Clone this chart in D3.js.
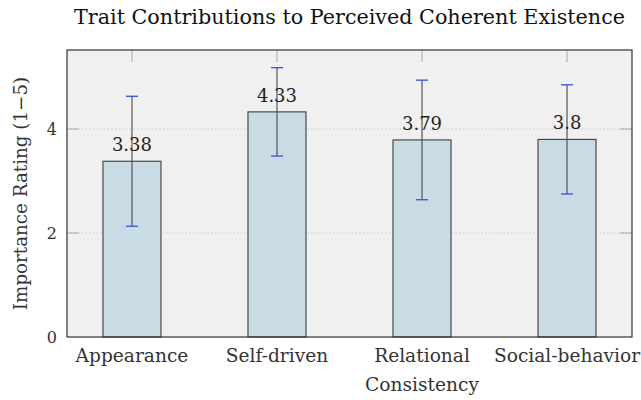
<!DOCTYPE html>
<html><head><meta charset="utf-8">
<script src="https://cdn.jsdelivr.net/npm/d3@7"></script>
<style>body{margin:0;background:#fff}svg{display:block}</style>
</head><body>
<svg id="c" width="641" height="400"></svg>
<script>
const categories = [["Appearance"], ["Self-driven"], ["Relational", "Consistency"], ["Social-behavior"]];
const values = [3.38, 4.33, 3.79, 3.8];
const errors = [1.25, 0.85, 1.15, 1.05];
const yTicks = [0, 2, 4];
const title = "Trait Contributions to Perceived Coherent Existence";
const yLabel = "Importance Rating (1\u22125)";

const font = "'DejaVu Serif', serif";
const svg = d3.select("#c");
const m = {l: 67, r: 632, t: 50, b: 337};
const keys = categories.map((c, i) => i);
const x = d3.scalePoint().domain(keys).range([m.l, m.r]).padding(0.448);
const y = d3.scaleLinear().domain([0, 5.52]).range([m.b, m.t]);
const bw = 58;

svg.append("rect").attr("x", m.l).attr("y", m.t).attr("width", m.r - m.l).attr("height", m.b - m.t).attr("fill", "#f0f0f0");

svg.append("g").selectAll("line").data(yTicks.filter(d => d > 0)).join("line")
  .attr("x1", m.l).attr("x2", m.r).attr("y1", d => y(d)).attr("y2", d => y(d))
  .attr("stroke", "#c4c4c4").attr("stroke-dasharray", "1.2,2.5");

const tl = 12;
const tg = svg.append("g").attr("stroke", "#a8a8a8").attr("stroke-width", 1);
yTicks.filter(d => d > 0).forEach(d => {
  tg.append("line").attr("x1", m.l).attr("x2", m.l + tl).attr("y1", y(d)).attr("y2", y(d));
  tg.append("line").attr("x1", m.r - tl).attr("x2", m.r).attr("y1", y(d)).attr("y2", y(d));
});
keys.forEach(k => {
  tg.append("line").attr("x1", x(k)).attr("x2", x(k)).attr("y1", m.t).attr("y2", m.t + tl);
});

svg.append("g").selectAll("rect").data(values).join("rect")
  .attr("x", (d, i) => x(i) - bw / 2).attr("width", bw)
  .attr("y", d => y(d)).attr("height", d => y(0) - y(d))
  .attr("fill", "#c9dbe5").attr("stroke", "#4a4a4a").attr("stroke-width", 1.2);

const eg = svg.append("g");
values.forEach((v, i) => {
  const cx = x(i);
  eg.append("line").attr("x1", cx).attr("x2", cx).attr("y1", y(v + errors[i])).attr("y2", y(v - errors[i]))
    .attr("stroke", "#555").attr("stroke-width", 1.2);
  [v + errors[i], v - errors[i]].forEach(e => {
    eg.append("line").attr("x1", cx - 6).attr("x2", cx + 6).attr("y1", y(e)).attr("y2", y(e))
      .attr("stroke", "#3a4fe0").attr("stroke-width", 1.3);
  });
});

svg.append("g").selectAll("text").data(values).join("text")
  .attr("x", (d, i) => x(i)).attr("y", d => y(d) - 10)
  .attr("text-anchor", "middle").attr("font-family", font).attr("font-size", 18).attr("fill", "#222")
  .text(d => d);

svg.append("rect").attr("x", m.l).attr("y", m.t).attr("width", m.r - m.l).attr("height", m.b - m.t)
  .attr("fill", "none").attr("stroke", "#333").attr("stroke-width", 1.2);

svg.append("g").selectAll("text").data(yTicks).join("text")
  .attr("x", m.l - 10).attr("y", d => y(d) + 6).attr("text-anchor", "end")
  .attr("font-family", font).attr("font-size", 16).attr("fill", "#333").text(d => d);

const xl = svg.append("g").selectAll("text").data(categories).join("text")
  .attr("x", (d, i) => x(i)).attr("y", 362).attr("text-anchor", "middle")
  .attr("font-family", font).attr("font-size", 18.6).attr("fill", "#333");
xl.each(function(d, i) {
  d3.select(this).selectAll("tspan").data(d).join("tspan")
    .attr("x", x(i)).attr("dy", (t, j) => j === 0 ? 0 : 28.5).text(t => t);
});

svg.append("text").attr("x", (m.l + m.r) / 2).attr("y", 24).attr("text-anchor", "middle")
  .attr("font-family", font).attr("font-size", 20.7).attr("fill", "#111").text(title);

svg.append("text").attr("transform", `translate(27,${(m.t + m.b) / 2}) rotate(-90)`)
  .attr("text-anchor", "middle").attr("font-family", font).attr("font-size", 18.3).attr("fill", "#333").text(yLabel);
</script>
</body></html>
